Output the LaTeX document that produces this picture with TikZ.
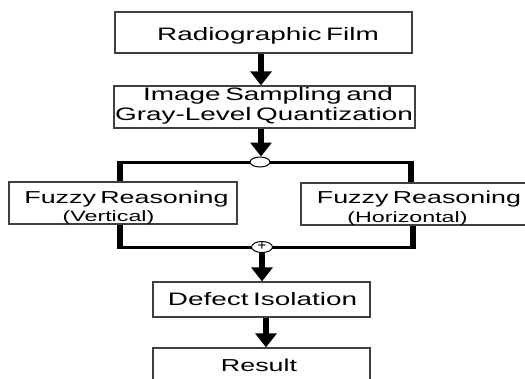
\documentclass[tikz,border=0pt]{standalone}
\usepackage{fontspec}
\setmainfont{Liberation Sans}[WordSpace={0.6}]
\usepackage{graphicx}
\usetikzlibrary{arrows.meta,shapes.geometric}
\newcommand\sx[1]{\scalebox{1.55}[1]{#1}}
\tikzset{
  box/.style={draw=black!75, line width=1.3pt, fill=white, inner sep=0pt},
  lbl/.style={anchor=base, inner sep=0pt, text=black},
  big/.style={lbl, font=\fontsize{18}{20}\selectfont},
  mid/.style={lbl, font=\fontsize{17.3}{20}\selectfont},
  sml/.style={lbl, font=\fontsize{15}{17}\selectfont},
  arr/.style={line width=6pt, -{Triangle[width=21pt,length=14pt]}},
  vbar/.style={line width=6pt},
  hbar/.style={line width=3pt},
  junc/.style={ellipse, draw=black, line width=1pt, fill=white, inner sep=0pt}
}
\begin{document}
\begin{tikzpicture}[x=1pt,y=-1pt]
\useasboundingbox (0,0) rectangle (525,378);
% boxes
\node[box, minimum width=297pt, minimum height=41pt] (film) at (263.5,32.5) {};
\node[box, minimum width=301pt, minimum height=42pt] (samp) at (264.5,107) {};
\node[box, minimum width=228pt, minimum height=42pt] (fv) at (123,203) {};
\node[box, minimum width=229pt, minimum height=42pt] (fh) at (415.5,204) {};
\node[box, minimum width=217pt, minimum height=35pt] (iso) at (261.5,299.5) {};
\node[box, minimum width=217pt, minimum height=52pt] (res) at (261.5,374) {};
% texts
\node[big] (tfilm) at (268,40) {\sx{Radiographic Film}};
\node[big] (tsamp1) at (268,100) {\sx{Image Sampling and}};
\node[big] (tsamp2) at (264,120) {\sx{Gray-Level Quantization}};
\node[mid] (tfv1) at (126.5,203) {\sx{Fuzzy Reasoning}};
\node[sml] (tfv2) at (108.5,221) {\sx{(Vertical)}};
\node[mid] (tfh1) at (419,203) {\sx{Fuzzy Reasoning}};
\node[sml] (tfh2) at (407.5,222) {\sx{(Horizontal)}};
\node[big] (tiso) at (262.5,305) {\sx{Defect Isolation}};
\node[mid] (tres) at (259,371) {\sx{Result}};
% junctions
\coordinate (tl) at (120,162);
\coordinate (tr) at (411,162);
\coordinate (bl) at (120,247);
\coordinate (br) at (413,247);
\draw[hbar] (tl) -- (tr);
\draw[hbar] (bl) -- (br);
\draw[vbar, shorten <=-1.5pt] (tl) -- (fv.north -| tl);
\draw[vbar, shorten <=-1.5pt] (tr) -- (fh.north -| tr);
\draw[vbar, shorten >=-1.75pt] (fv.south -| bl) -- (bl);
\draw[vbar, shorten >=-1.75pt] (fh.south -| br) -- (br);
\node[junc, minimum width=20pt, minimum height=10pt] (split) at (260,162) {};
\node[junc, minimum width=21pt, minimum height=11pt] (join) at (262,247) {};
\node[inner sep=0pt, font=\fontsize{15}{15}\selectfont] (plus) at (262,246.5) {+};
% arrows
\coordinate (xa) at (261,0);
\coordinate (xc) at (262,0);
\coordinate (xd) at (266,0);
\draw[arr] (film.south -| xa) -- (samp.north -| xa);
\draw[arr] (samp.south -| xa) -- (split.north -| xa);
\draw[arr] (join.south -| xc) -- (iso.north -| xc);
\draw[arr] (iso.south -| xd) -- (res.north -| xd);
\end{tikzpicture}
\end{document}
